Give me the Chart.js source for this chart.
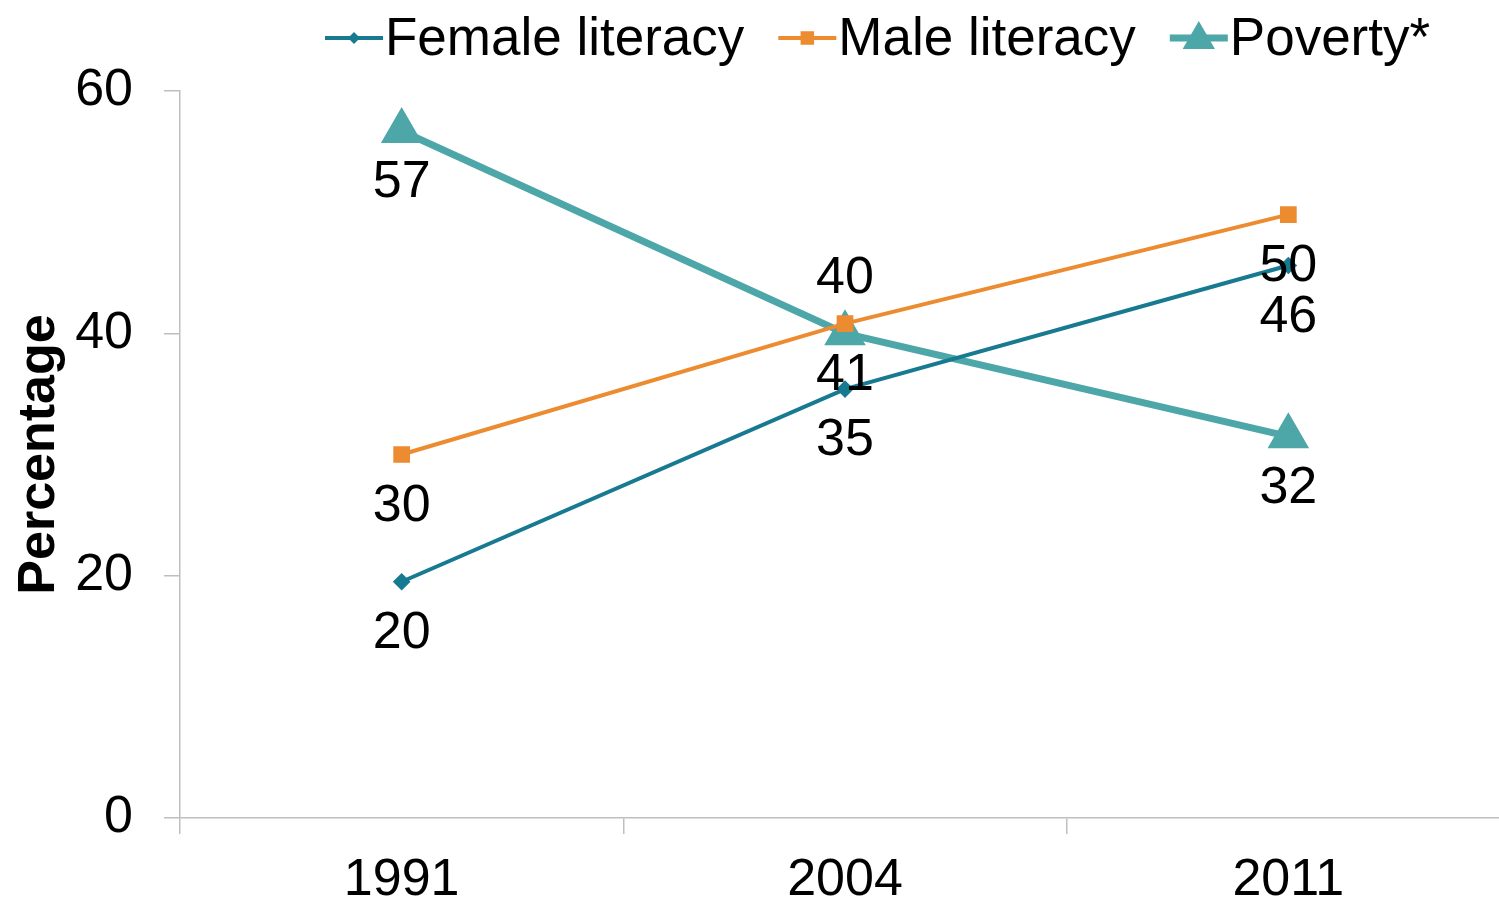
<!DOCTYPE html>
<html lang="en">
<head>
  <meta charset="UTF-8" />
  <title>Literacy and Poverty</title>
  <script src="https://cdn.jsdelivr.net/npm/chart.js"></script>
  <style>
    html, body {
      margin: 0;
      padding: 0;
      background: #fff;
      overflow: hidden;
    }
    canvas {
      display: block;
    }
  </style>
</head>
<body>
  <canvas id="chart" width="1534" height="902"></canvas>

  <script>
    const years = ['1991', '2004', '2011'];
    const female = [19.5, 35.4, 45.6];
    const male = [30.0, 40.8, 49.8];
    const poverty = [56.7, 40.0, 31.5];
    const yTicks = [0, 20, 40, 60];

    const FONT = "'Liberation Sans', Arial, sans-serif";
    const COL_F = '#177a91';
    const COL_M = '#ec8b30';
    const COL_P = '#4da6a8';
    const AXIS = '#bfbfbf';

    // value labels under (or over) each point
    const pointLabels = {
      id: 'pointLabels',
      afterDatasetsDraw(chart) {
        const ctx = chart.ctx;
        ctx.save();
        ctx.font = '52px ' + FONT;
        ctx.fillStyle = '#000';
        ctx.textAlign = 'center';
        ctx.textBaseline = 'middle';
        chart.data.datasets.forEach((ds, di) => {
          chart.getDatasetMeta(di).data.forEach((pt, i) => {
            const dy = ds.labelPos[i] === 'above' ? -55 : 52;
            ctx.fillText(Math.round(ds.data[i]), pt.x, pt.y + dy);
          });
        });
        ctx.restore();
      }
    };

    // Excel-like legend: short line with marker, then the name
    const lineLegend = {
      id: 'lineLegend',
      afterDraw(chart) {
        const ctx = chart.ctx;
        ctx.save();
        ctx.font = '53px ' + FONT;
        ctx.textBaseline = 'middle';
        let x = 325;
        const y = 38;
        chart.data.datasets.forEach(ds => {
          ctx.strokeStyle = ds.borderColor;
          ctx.lineWidth = ds.borderWidth;
          ctx.beginPath();
          ctx.moveTo(x, y);
          ctx.lineTo(x + 58, y);
          ctx.stroke();
          const cx = x + 29;
          const r = ds.pointRadius;
          ctx.fillStyle = ds.borderColor;
          ctx.beginPath();
          if (ds.pointStyle === 'rectRot') {
            ctx.moveTo(cx, y - r); ctx.lineTo(cx + r, y);
            ctx.lineTo(cx, y + r); ctx.lineTo(cx - r, y);
          } else if (ds.pointStyle === 'rect') {
            ctx.rect(cx - r * 0.75, y - r * 0.75, r * 1.5, r * 1.5);
          } else {
            ctx.moveTo(cx, y - r); ctx.lineTo(cx + r * 0.95, y + r * 0.65);
            ctx.lineTo(cx - r * 0.95, y + r * 0.65);
          }
          ctx.closePath();
          ctx.fill();
          ctx.fillStyle = '#000';
          ctx.fillText(ds.label, x + 60, y + 2);
          x += 60 + ctx.measureText(ds.label).width + 34;
        });
        ctx.restore();
      }
    };

    new Chart(document.getElementById('chart'), {
      type: 'line',
      data: {
        labels: years,
        datasets: [
          {
            label: 'Female literacy',
            data: female,
            borderColor: COL_F,
            backgroundColor: COL_F,
            borderWidth: 4,
            pointStyle: 'rectRot',
            pointRadius: 6,
            labelPos: ['below', 'below', 'below']
          },
          {
            label: 'Male literacy',
            data: male,
            borderColor: COL_M,
            backgroundColor: COL_M,
            borderWidth: 4,
            pointStyle: 'rect',
            pointRadius: 9,
            labelPos: ['below', 'below', 'below']
          },
          {
            label: 'Poverty*',
            data: poverty,
            borderColor: COL_P,
            backgroundColor: COL_P,
            borderWidth: 7,
            pointStyle: 'triangle',
            pointRadius: 17,
            labelPos: ['below', 'above', 'below']
          }
        ]
      },
      options: {
        responsive: false,
        animation: false,
        layout: { padding: { top: 91, right: 1, left: 0, bottom: 0 } },
        plugins: {
          legend: { display: false },
          tooltip: { enabled: false }
        },
        scales: {
          x: {
            offset: true,
            grid: {
              offset: true,
              drawOnChartArea: false,
              drawTicks: true,
              tickLength: 16,
              color: AXIS,
              lineWidth: 1.5
            },
            border: { color: AXIS, width: 1.5 },
            ticks: {
              color: '#000',
              font: { family: FONT, size: 52 },
              padding: 15
            },
            afterFit(scale) { scale.height = 84; }
          },
          y: {
            min: 0,
            max: 60,
            afterBuildTicks(scale) {
              scale.ticks = yTicks.map(v => ({ value: v }));
            },
            grid: {
              drawOnChartArea: false,
              drawTicks: true,
              tickLength: 16,
              color: AXIS,
              lineWidth: 1.5
            },
            border: { color: AXIS, width: 1.5 },
            ticks: {
              color: '#000',
              font: { family: FONT, size: 52 },
              padding: 31
            },
            title: {
              display: true,
              text: 'Percentage',
              color: '#000',
              font: { family: FONT, size: 52, weight: 'bold' },
              padding: { top: 8, bottom: 0 }
            },
            afterFit(scale) { scale.width = 180; }
          }
        }
      },
      plugins: [pointLabels, lineLegend]
    });
  </script>
</body>
</html>
